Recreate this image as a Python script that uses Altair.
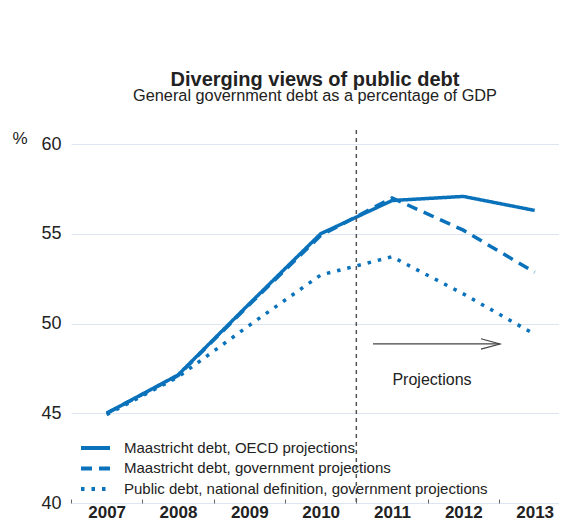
import altair as alt
import pandas as pd

FONT = "Liberation Sans, Arial, Helvetica, sans-serif"
BLUE = "#0a72bb"
INK = "#222222"

years = [2007, 2008, 2009, 2010, 2011, 2012, 2013]
oecd = [45.0, 47.13, 51.1, 55.0, 56.85, 57.08, 56.3]
government = [45.0, 47.1, 51.05, 54.9, 57.0, 55.2, 52.85]
national = [44.92, 47.02, 49.9, 52.7, 53.72, 51.65, 49.4]

series_names = [
    "Maastricht debt, OECD projections",
    "Maastricht debt, government projections",
    "Public debt, national definition, government projections",
]
series_values = [oecd, government, national]
dash_styles = [[1, 0], [11, 7], [3.5, 7]]

y_ticks = [40, 45, 50, 55, 60]

projection_start = 2010.5
arrow_from = 2010.734
arrow_to = 2012.514
arrow_level = 48.86
note_text = "Projections"
note_x = 2011.561
note_y = 46.6

rows = []
for name, vals in zip(series_names, series_values):
    for yr, v in zip(years, vals):
        rows.append({"year": yr, "value": v, "series": name})
df = pd.DataFrame(rows)

W, H = 488, 359
PX_PER_YEAR = 71.33
x_scale = alt.Scale(domain=[2006.5, 2006.5 + W / PX_PER_YEAR], nice=False, zero=False)
y_scale = alt.Scale(domain=[40, 60], nice=False, zero=False)

half = PX_PER_YEAR / 2
x_axis = alt.Axis(
    values=years, format="d",
    grid=False, domain=False, tickSize=4, tickColor="#666666", tickWidth=1,
    tickOffset=-half, labelOffset=half,
    offset=-4, labelPadding=1, labelOverlap=False, labelFlush=False,
    labelFont=FONT, labelFontSize=17, labelFontWeight="bold", labelColor=INK,
    title=None,
)
y_axis = alt.Axis(
    values=y_ticks, grid=True, gridColor="#dde4f2", gridWidth=1,
    domain=False, ticks=False, labelPadding=10,
    labelFont=FONT, labelFontSize=18, labelColor=INK,
    title="%", titleAngle=0, titleX=-59, titleY=-1, titleAlign="left",
    titleBaseline="alphabetic", titleFont=FONT, titleFontSize=17,
    titleFontWeight="normal", titleColor=INK,
)

lines = alt.Chart(df).mark_line(color=BLUE, strokeWidth=3.5, strokeCap="butt").encode(
    x=alt.X("year:Q", scale=x_scale, axis=x_axis),
    y=alt.Y("value:Q", scale=y_scale, axis=y_axis),
    strokeDash=alt.StrokeDash(
        "series:N",
        scale=alt.Scale(domain=series_names, range=dash_styles),
        sort=series_names,
        legend=alt.Legend(
            title=None, orient="none", legendX=17, legendY=296.4, padding=0,
            symbolType="M-2.9,0L2.9,0", symbolSize=100, symbolStrokeWidth=4,
            symbolStrokeColor=BLUE, symbolFillColor="transparent",
            labelFont=FONT, labelFontSize=15, labelColor=INK, labelOffset=21,
            labelLimit=500, rowPadding=3.5,
        ),
    ),
)

marker_df = pd.DataFrame({"x": [projection_start]})
divider = alt.Chart(marker_df).mark_rule(
    color="#555555", strokeWidth=1.5, strokeDash=[4, 4]
).encode(x=alt.X("x:Q", scale=x_scale), y=alt.value(-14), y2=alt.value(H))

arrow_df = pd.DataFrame({"x": [arrow_from], "x2": [arrow_to], "y": [arrow_level]})
shaft = alt.Chart(arrow_df).mark_rule(color="#444444", strokeWidth=1.2).encode(
    x=alt.X("x:Q", scale=x_scale), x2="x2:Q",
    y=alt.Y("y:Q", scale=y_scale),
)
head = alt.Chart(arrow_df).mark_point(
    shape="M-2,-0.55L0,0L-2,0.55", filled=False, size=361,
    color="#444444", strokeWidth=1.2, opacity=1,
).encode(
    x=alt.X("x2:Q", scale=x_scale),
    y=alt.Y("y:Q", scale=y_scale),
)

note_df = pd.DataFrame({"x": [note_x], "y": [note_y], "t": [note_text]})
note = alt.Chart(note_df).mark_text(
    font=FONT, fontSize=16, color=INK, align="center", baseline="alphabetic"
).encode(
    x=alt.X("x:Q", scale=x_scale),
    y=alt.Y("y:Q", scale=y_scale),
    text="t:N",
)

chart = alt.layer(lines, divider, shaft, head, note).properties(
    width=W, height=H,
    background="white",
    autosize=alt.AutoSizeParams(type="none"),
    padding={"left": 63, "top": 136, "right": 0, "bottom": 17},
    title=alt.TitleParams(
        text="Diverging views of public debt",
        subtitle="General government debt as a percentage of GDP",
        anchor="middle", font=FONT, fontSize=20, fontWeight="bold", color=INK,
        subtitleFont=FONT, subtitleFontSize=16.3, subtitleColor=INK,
        offset=25, subtitlePadding=-2,
    ),
).configure_view(stroke=None)

chart.save("out.html", embed_options={"renderer": "svg", "actions": False})
